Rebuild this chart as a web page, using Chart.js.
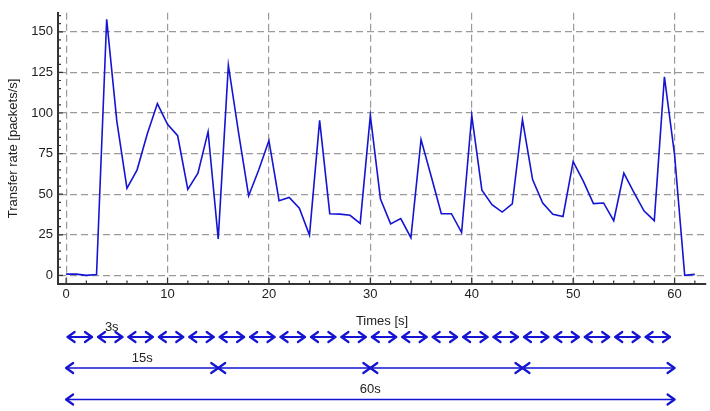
<!DOCTYPE html>
<html lang="en">
<head>
  <meta charset="UTF-8">
  <title>Transfer rate</title>
  <style>
    body { margin: 0; background: #fff; }
    canvas { display: block; }
  </style>
</head>
<body>
  <canvas id="grafico" width="710" height="411"></canvas>

  <script src="https://cdn.jsdelivr.net/npm/chart.js"></script>
  <script>
    // seconds and packets/s
    const tempos = [0, 1, 2, 3, 4, 5, 6, 7, 8, 9, 10, 11, 12, 13, 14, 15, 16, 17, 18, 19, 20,
      21, 22, 23, 24, 25, 26, 27, 28, 29, 30, 31, 32, 33, 34, 35, 36, 37, 38, 39, 40,
      41, 42, 43, 44, 45, 46, 47, 48, 49, 50, 51, 52, 53, 54, 55, 56, 57, 58, 59, 60, 61, 62];
    const taxas = [0.8, 0.8, 0, 0.5, 157.7, 95, 53.6, 65, 87, 105.8, 93, 86, 53, 63, 88.5, 22.5,
      129.4, 88, 49, 65, 83, 46, 48, 41.4, 24.8, 95.5, 38, 37.7, 37, 32, 98.5,
      47, 31.7, 35, 23.2, 83.6, 61, 38, 38, 26.4, 98.5, 52.5, 43.6, 39, 44, 96,
      59, 44.6, 37.6, 36.3, 70, 58, 44.2, 44.6, 33.7, 63, 51, 39.6, 33.7, 122.3, 74.3, 0, 0.6];

    // interval arrows under the axis
    const periodos = [3, 15, 60];
    const rotulosPeriodo = ['3s', '15s', '60s'];
    const setaComRotulo = [1, 0, 0];
    const fimPeriodos = 60;

    const azul = '#1414d2';
    const fonte = '"Liberation Sans", Arial, sans-serif';

    function desenhaSeta(ctx, x1, x2, y, lw) {
      const w = 7, h = 5;
      ctx.lineWidth = lw;
      ctx.beginPath();
      ctx.moveTo(x1, y);
      ctx.lineTo(x2, y);
      ctx.stroke();
      ctx.lineWidth = 2.2;
      ctx.beginPath();
      ctx.moveTo(x1 + w, y - h); ctx.lineTo(x1, y); ctx.lineTo(x1 + w, y + h);
      ctx.moveTo(x2 - w, y - h); ctx.lineTo(x2, y); ctx.lineTo(x2 - w, y + h);
      ctx.stroke();
    }

    const setas = {
      id: 'setas',
      afterDraw(chart) {
        const ctx = chart.ctx;
        const sx = chart.scales.x;
        const linhasY = [337, 368, 399.5];
        ctx.save();
        ctx.strokeStyle = azul;
        ctx.lineCap = 'round';
        ctx.lineJoin = 'round';
        periodos.forEach((p, r) => {
          const y = linhasY[r];
          const curta = p < 10;
          for (let i = 0; i * p < fimPeriodos; i++) {
            const a = i * p + (curta ? 0.15 : 0);
            const b = (i + 1) * p - (curta ? 0.45 : 0);
            desenhaSeta(ctx, sx.getPixelForValue(a), sx.getPixelForValue(b), y, curta ? 2.2 : 1.5);
          }
          const meio = (setaComRotulo[r] + 0.5) * p;
          ctx.fillStyle = '#222';
          ctx.font = '13px ' + fonte;
          ctx.textAlign = 'center';
          ctx.textBaseline = 'middle';
          ctx.fillText(rotulosPeriodo[r], sx.getPixelForValue(meio), y - 10);
        });
        ctx.restore();
      }
    };

    // small ticks pointing into the plot
    const marcas = {
      id: 'marcas',
      afterDraw(chart) {
        const ctx = chart.ctx;
        const {x, y} = chart.scales;
        const area = chart.chartArea;
        ctx.save();
        ctx.strokeStyle = '#333';
        ctx.lineWidth = 1.2;
        ctx.beginPath();
        for (let v = 0; v <= y.max; v += 5) {
          const py = y.getPixelForValue(v);
          const len = v % 25 === 0 ? 5 : 3;
          ctx.moveTo(area.left, py);
          ctx.lineTo(area.left + len, py);
        }
        for (let v = 0; v <= x.max; v += 2) {
          const px = x.getPixelForValue(v);
          const len = v % 10 === 0 ? 6 : 3.5;
          ctx.moveTo(px, area.bottom);
          ctx.lineTo(px, area.bottom - len);
        }
        ctx.stroke();
        ctx.restore();
      }
    };

    const ctx = document.getElementById('grafico').getContext('2d');
    new Chart(ctx, {
      type: 'line',
      data: {
        datasets: [{
          data: tempos.map((t, i) => ({ x: t, y: taxas[i] })),
          borderColor: azul,
          borderWidth: 1.6,
          pointRadius: 0,
          fill: false,
          tension: 0
        }]
      },
      options: {
        responsive: false,
        animation: false,
        layout: { padding: { top: 3, right: 4, bottom: 82, left: 0 } },
        plugins: {
          legend: { display: false },
          tooltip: { enabled: false }
        },
        scales: {
          x: {
            type: 'linear',
            min: -0.8,
            max: 63.1,
            afterFit: s => { s.height = 45; },
            ticks: { stepSize: 10, includeBounds: false, padding: 3, maxRotation: 0, color: '#222', font: { family: fonte, size: 13 } },
            grid: { color: '#9a9a9a', lineWidth: 1.2, drawTicks: false },
            border: { color: '#333', width: 2, dash: [7, 4] },
            title: { display: true, text: 'Times [s]', padding: 0, color: '#222', font: { family: fonte, size: 13 } }
          },
          y: {
            min: -5.3,
            max: 161.7,
            afterFit: s => { s.width = 58; },
            ticks: { stepSize: 25, includeBounds: false, padding: 5, color: '#222', font: { family: fonte, size: 13 } },
            grid: { color: '#9a9a9a', lineWidth: 1.2, drawTicks: false },
            border: { color: '#333', width: 2, dash: [7, 4] },
            title: { display: true, text: 'Transfer rate [packets/s]', padding: { top: 6, bottom: 0 }, color: '#222', font: { family: fonte, size: 13 } }
          }
        }
      },
      plugins: [marcas, setas]
    });
  </script>
</body>
</html>
